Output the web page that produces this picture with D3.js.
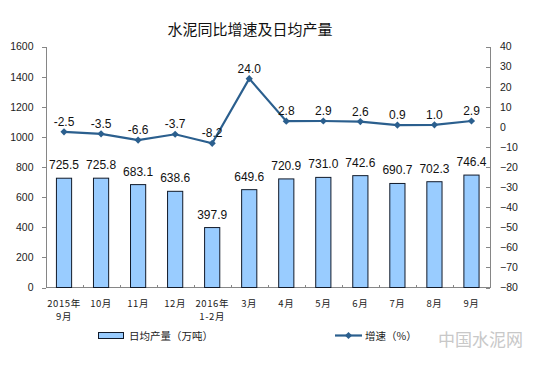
<!DOCTYPE html>
<html lang="zh">
<head>
    <meta charset="UTF-8">
    <title>水泥同比增速及日均产量</title>
    <script src="https://d3js.org/d3.v7.min.js"></script>
    <style>
        body { margin: 0; background: #fff; }
        svg { display: block; font-family: "Liberation Sans", Arial, "Noto Sans CJK SC", sans-serif; }
        .axis path, .axis line { stroke: #868686; shape-rendering: crispEdges; }
        .axis text { fill: #222; font-size: 10.5px; }
        .cjk { font-family: "Noto Sans CJK SC", sans-serif; }
    </style>
</head>
<body>
<div id="chart"></div>
<script>
    // data
    const months = ["2015年|9月", "10月", "11月", "12月", "2016年|1-2月", "3月", "4月", "5月", "6月", "7月", "8月", "9月"];
    const output = [725.5, 725.8, 683.1, 638.6, 397.9, 649.6, 720.9, 731.0, 742.6, 690.7, 702.3, 746.4];
    const growth = [-2.5, -3.5, -6.6, -3.7, -8.2, 24.0, 2.8, 2.9, 2.6, 0.9, 1.0, 2.9];
    const leftTicks = [0, 200, 400, 600, 800, 1000, 1200, 1400, 1600];
    const rightTicks = [-80, -70, -60, -50, -40, -30, -20, -10, 0, 10, 20, 30, 40];

    const W = 545, H = 369;
    const svg = d3.select("#chart").append("svg")
        .attr("width", W).attr("height", H);

    const x = d3.scaleBand().domain(months).range([45.5, 490]).padding(0);
    const yL = d3.scaleLinear().domain([0, 1600]).range([287.5, 46.5]);
    const yR = d3.scaleLinear().domain([-80, 40]).range([287.5, 46.5]);
    const barW = x.bandwidth() * 0.41;
    const cx = d => x(d) + x.bandwidth() / 2;

    // title
    svg.append("text").attr("class", "cjk")
        .attr("x", 250).attr("y", 35)
        .attr("text-anchor", "middle")
        .attr("font-size", 15).attr("fill", "#111")
        .text("水泥同比增速及日均产量");

    // axes
    svg.append("g").attr("class", "axis")
        .attr("transform", "translate(45.5,0)")
        .call(d3.axisLeft(yL).tickValues(leftTicks).tickSizeInner(4).tickSizeOuter(0).tickPadding(8).tickFormat(d3.format("d")));

    svg.append("g").attr("class", "axis")
        .attr("transform", "translate(490,0)")
        .call(d3.axisRight(yR).tickValues(rightTicks).tickSizeInner(-4).tickSizeOuter(0).tickPadding(10).tickFormat(d3.format("d")));

    const xg = svg.append("g").attr("class", "axis");
    xg.append("line")
        .attr("x1", 45.5).attr("x2", 490)
        .attr("y1", 287.5).attr("y2", 287.5);
    xg.selectAll("line.tick")
        .data(months.slice(1))
        .enter().append("line")
        .attr("class", "tick")
        .attr("x1", d => Math.round(x(d)) + 0.5).attr("x2", d => Math.round(x(d)) + 0.5)
        .attr("y1", 287.5).attr("y2", 284.5);

    const xl = svg.selectAll("text.xlab")
        .data(months)
        .enter().append("text")
        .attr("class", "xlab cjk")
        .attr("text-anchor", "middle")
        .attr("font-size", 9.5)
        .attr("letter-spacing", 0.6)
        .attr("fill", "#222");
    xl.each(function(d) {
        const parts = d.split("|");
        d3.select(this).selectAll("tspan")
            .data(parts)
            .enter().append("tspan")
            .attr("x", cx(d))
            .attr("y", (p, i) => 307 + i * 13)
            .text(p => p);
    });

    // bars
    svg.selectAll("rect.bar")
        .data(output)
        .enter().append("rect")
        .attr("class", "bar")
        .attr("x", (d, i) => cx(months[i]) - barW / 2)
        .attr("y", d => yL(d))
        .attr("width", barW)
        .attr("height", d => yL(0) - yL(d))
        .attr("fill", "#99ccff")
        .attr("stroke", "#111a2a")
        .attr("stroke-width", 1);

    svg.selectAll("text.barlab")
        .data(output)
        .enter().append("text")
        .attr("class", "barlab")
        .attr("x", (d, i) => cx(months[i]))
        .attr("y", d => yL(d) - 9)
        .attr("text-anchor", "middle")
        .attr("font-size", 12).attr("fill", "#111")
        .text(d => d.toFixed(1));

    // line
    const lineColor = "#2b5f8e";
    svg.append("path")
        .datum(growth)
        .attr("fill", "none")
        .attr("stroke", lineColor)
        .attr("stroke-width", 2.2)
        .attr("d", d3.line().x((d, i) => cx(months[i])).y(d => yR(d)));

    const diamond = d3.symbol().type(d3.symbolSquare).size(26);
    svg.selectAll("path.pt")
        .data(growth)
        .enter().append("path")
        .attr("class", "pt")
        .attr("d", diamond)
        .attr("fill", lineColor)
        .attr("transform", (d, i) => `translate(${cx(months[i])},${yR(d)}) rotate(45)`);

    svg.selectAll("text.ptlab")
        .data(growth)
        .enter().append("text")
        .attr("x", (d, i) => cx(months[i]))
        .attr("y", d => yR(d) - 6)
        .attr("text-anchor", "middle")
        .attr("font-size", 12).attr("fill", "#111")
        .text(d => d.toFixed(1));

    // legend
    const lg = svg.append("g");
    lg.append("rect")
        .attr("x", 98.5).attr("y", 332.5)
        .attr("width", 25).attr("height", 6)
        .attr("fill", "#99ccff").attr("stroke", "#111a2a");
    lg.append("text").attr("class", "cjk")
        .attr("x", 129).attr("y", 339.5)
        .attr("font-size", 10.5).attr("fill", "#222")
        .text("日均产量（万吨）");

    lg.append("line")
        .attr("x1", 335).attr("x2", 362)
        .attr("y1", 335.5).attr("y2", 335.5)
        .attr("stroke", lineColor).attr("stroke-width", 2.2);
    lg.append("path")
        .attr("d", diamond)
        .attr("fill", lineColor)
        .attr("transform", "translate(348.5,335.5) rotate(45)");
    lg.append("text").attr("class", "cjk")
        .attr("x", 365).attr("y", 339.5)
        .attr("font-size", 10.5).attr("fill", "#222")
        .text("增速（%）");

    // watermark
    svg.append("text").attr("class", "cjk")
        .attr("x", 438).attr("y", 346)
        .attr("font-size", 17).attr("fill", "#c8c8c8")
        .text("中国水泥网");
</script>
</body>
</html>
